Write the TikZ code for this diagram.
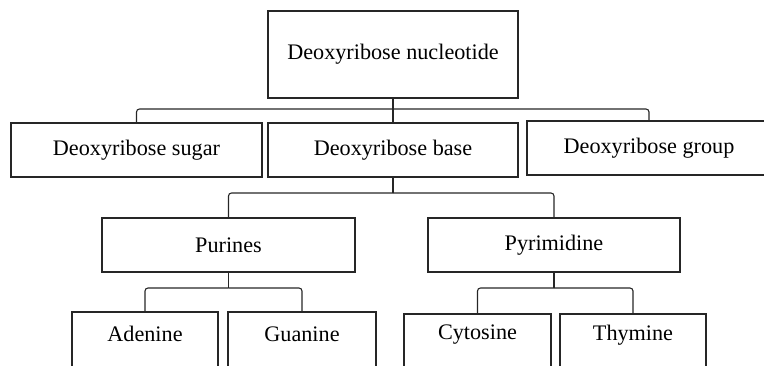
\documentclass[tikz,border=0pt]{standalone}
\usepackage{fontspec}
\setmainfont{Liberation Serif}
\usetikzlibrary{calc}
\begin{document}
\begin{tikzpicture}[x=0.5pt,y=-0.5pt,
  box/.style={draw=black!85,line width=0.7pt,rectangle,inner sep=0pt,
    font=\fontsize{11.1}{13}\selectfont},
  conn/.style={draw=black!85,line width=0.55pt,rounded corners=1.5pt},
  lbl/.style={font=\fontsize{11.1}{13}\selectfont}]
\useasboundingbox (0,0) rectangle (764,365);
\clip (0,0) rectangle (764,365);
% level 0
\node[box,minimum width=125pt,minimum height=43.5pt] (top) at (393,54.5) {Deoxyribose nucleotide};
% level 1
\node[box,minimum width=125.5pt,minimum height=27pt] (sugar) at (136.5,150) {Deoxyribose sugar};
\node[box,minimum width=125pt,minimum height=27pt] (base) at (393,150) {Deoxyribose base};
\node[box,minimum width=122pt,minimum height=27pt] (group) at (649,148) {Deoxyribose group};
% level 2
\node[box,minimum width=126.5pt,minimum height=27pt] (purines) at (228.5,245) {Purines};
\node[box,minimum width=126pt,minimum height=27pt] (pyrimidine) at (554,245) {Pyrimidine};
% level 3
\node[box,minimum width=73pt,minimum height=30pt,label={[lbl,yshift=4pt]center:Adenine}] (adenine) at (145,342) {};
\node[box,minimum width=74pt,minimum height=30pt,label={[lbl,yshift=4pt]center:Guanine}] (guanine) at (302,342) {};
\node[box,minimum width=73.5pt,minimum height=29pt,label={[lbl,yshift=4pt]center:Cytosine}] (cytosine) at (477.5,343) {};
\node[box,minimum width=73pt,minimum height=29pt,label={[lbl,yshift=4pt]center:Thymine}] (thymine) at (633,343) {};
% connectors
\coordinate (j0) at (393,109);
\draw[conn] (top.south) -- (j0);
\draw[conn] (j0) -| (sugar.north);
\draw[conn] (j0) -| (group.north);
\draw[conn] (j0) -- (base.north);
\coordinate (j1) at (393,193);
\draw[conn] (base.south) -- (j1);
\draw[conn] (j1) -| (purines.north);
\draw[conn] (j1) -| (pyrimidine.north);
\coordinate (j2) at (228.5,288);
\draw[conn] (purines.south) -- (j2);
\draw[conn] (j2) -| (adenine.north);
\draw[conn] (j2) -| (guanine.north);
\coordinate (j3) at (554,288);
\draw[conn] (pyrimidine.south) -- (j3);
\draw[conn] (j3) -| (cytosine.north);
\draw[conn] (j3) -| (thymine.north);
\end{tikzpicture}
\end{document}
